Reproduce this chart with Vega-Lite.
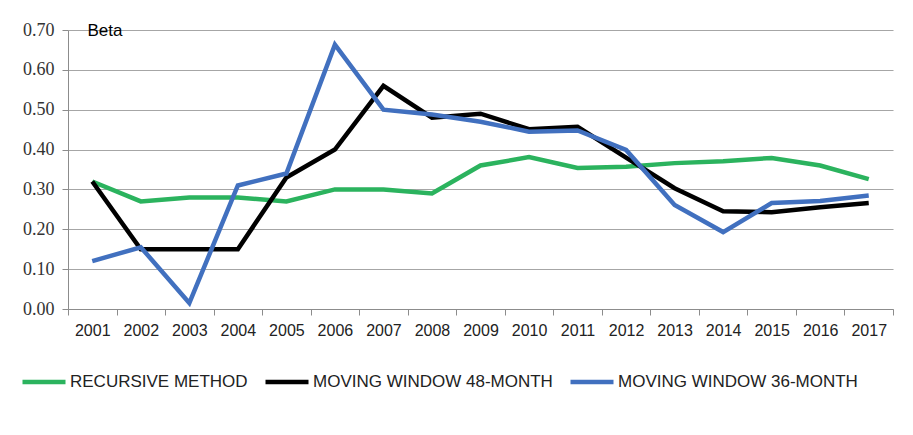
{
  "$schema": "https://vega.github.io/schema/vega-lite/v6.json",
  "width": 825,
  "height": 279,
  "autosize": {"type": "none"},
  "padding": {"left": 68, "top": 30, "right": 20, "bottom": 126},
  "background": "white",
  "config": {"view": {"stroke": null}},
  "data": {"values": [
    {"year": "2001", "series": "RECURSIVE METHOD", "beta": 0.32},
    {"year": "2002", "series": "RECURSIVE METHOD", "beta": 0.27},
    {"year": "2003", "series": "RECURSIVE METHOD", "beta": 0.28},
    {"year": "2004", "series": "RECURSIVE METHOD", "beta": 0.28},
    {"year": "2005", "series": "RECURSIVE METHOD", "beta": 0.27},
    {"year": "2006", "series": "RECURSIVE METHOD", "beta": 0.30},
    {"year": "2007", "series": "RECURSIVE METHOD", "beta": 0.30},
    {"year": "2008", "series": "RECURSIVE METHOD", "beta": 0.29},
    {"year": "2009", "series": "RECURSIVE METHOD", "beta": 0.36},
    {"year": "2010", "series": "RECURSIVE METHOD", "beta": 0.381},
    {"year": "2011", "series": "RECURSIVE METHOD", "beta": 0.354},
    {"year": "2012", "series": "RECURSIVE METHOD", "beta": 0.357},
    {"year": "2013", "series": "RECURSIVE METHOD", "beta": 0.366},
    {"year": "2014", "series": "RECURSIVE METHOD", "beta": 0.371},
    {"year": "2015", "series": "RECURSIVE METHOD", "beta": 0.379},
    {"year": "2016", "series": "RECURSIVE METHOD", "beta": 0.36},
    {"year": "2017", "series": "RECURSIVE METHOD", "beta": 0.326},
    {"year": "2001", "series": "MOVING WINDOW 48-MONTH", "beta": 0.32},
    {"year": "2002", "series": "MOVING WINDOW 48-MONTH", "beta": 0.15},
    {"year": "2003", "series": "MOVING WINDOW 48-MONTH", "beta": 0.15},
    {"year": "2004", "series": "MOVING WINDOW 48-MONTH", "beta": 0.15},
    {"year": "2005", "series": "MOVING WINDOW 48-MONTH", "beta": 0.33},
    {"year": "2006", "series": "MOVING WINDOW 48-MONTH", "beta": 0.40},
    {"year": "2007", "series": "MOVING WINDOW 48-MONTH", "beta": 0.56},
    {"year": "2008", "series": "MOVING WINDOW 48-MONTH", "beta": 0.48},
    {"year": "2009", "series": "MOVING WINDOW 48-MONTH", "beta": 0.49},
    {"year": "2010", "series": "MOVING WINDOW 48-MONTH", "beta": 0.451},
    {"year": "2011", "series": "MOVING WINDOW 48-MONTH", "beta": 0.457},
    {"year": "2012", "series": "MOVING WINDOW 48-MONTH", "beta": 0.38},
    {"year": "2013", "series": "MOVING WINDOW 48-MONTH", "beta": 0.303},
    {"year": "2014", "series": "MOVING WINDOW 48-MONTH", "beta": 0.245},
    {"year": "2015", "series": "MOVING WINDOW 48-MONTH", "beta": 0.243},
    {"year": "2016", "series": "MOVING WINDOW 48-MONTH", "beta": 0.255},
    {"year": "2017", "series": "MOVING WINDOW 48-MONTH", "beta": 0.266},
    {"year": "2001", "series": "MOVING WINDOW 36-MONTH", "beta": 0.12},
    {"year": "2002", "series": "MOVING WINDOW 36-MONTH", "beta": 0.155},
    {"year": "2003", "series": "MOVING WINDOW 36-MONTH", "beta": 0.015},
    {"year": "2004", "series": "MOVING WINDOW 36-MONTH", "beta": 0.31},
    {"year": "2005", "series": "MOVING WINDOW 36-MONTH", "beta": 0.34},
    {"year": "2006", "series": "MOVING WINDOW 36-MONTH", "beta": 0.663},
    {"year": "2007", "series": "MOVING WINDOW 36-MONTH", "beta": 0.50},
    {"year": "2008", "series": "MOVING WINDOW 36-MONTH", "beta": 0.488},
    {"year": "2009", "series": "MOVING WINDOW 36-MONTH", "beta": 0.47},
    {"year": "2010", "series": "MOVING WINDOW 36-MONTH", "beta": 0.445},
    {"year": "2011", "series": "MOVING WINDOW 36-MONTH", "beta": 0.448},
    {"year": "2012", "series": "MOVING WINDOW 36-MONTH", "beta": 0.399},
    {"year": "2013", "series": "MOVING WINDOW 36-MONTH", "beta": 0.261},
    {"year": "2014", "series": "MOVING WINDOW 36-MONTH", "beta": 0.193},
    {"year": "2015", "series": "MOVING WINDOW 36-MONTH", "beta": 0.266},
    {"year": "2016", "series": "MOVING WINDOW 36-MONTH", "beta": 0.271},
    {"year": "2017", "series": "MOVING WINDOW 36-MONTH", "beta": 0.285}
  ]},
  "mark": {"type": "line", "strokeWidth": 4.5, "strokeJoin": "miter", "strokeCap": "butt"},
  "encoding": {
    "x": {
      "field": "year", "type": "ordinal",
      "scale": {"paddingInner": 0, "paddingOuter": 0},
      "axis": {
        "title": null, "labelAngle": 0, "tickBand": "extent",
        "domainColor": "#8c8c8c", "tickColor": "#8c8c8c", "tickSize": 6,
        "labelFont": "Liberation Sans", "labelFontSize": 16, "labelColor": "#222",
        "labelPadding": 7, "grid": false
      }
    },
    "y": {
      "field": "beta", "type": "quantitative",
      "scale": {"domain": [0, 0.7], "nice": false},
      "axis": {
        "values": [0, 0.1, 0.2, 0.3, 0.4, 0.5, 0.6, 0.7],
        "format": ".2f",
        "grid": true, "gridColor": "#a6a6a6", "gridWidth": 1.2,
        "domainColor": "#8c8c8c", "tickColor": "#8c8c8c", "tickSize": 6,
        "labelFont": "Liberation Serif", "labelFontSize": 18, "labelColor": "#333",
        "labelPadding": 8,
        "title": "Beta", "titleAngle": 0, "titleX": 19, "titleY": 0,
        "titleAlign": "left", "titleBaseline": "middle",
        "titleFont": "Liberation Sans", "titleFontSize": 17, "titleFontWeight": "normal", "titleColor": "#000"
      }
    },
    "color": {
      "field": "series", "type": "nominal",
      "scale": {
        "domain": ["RECURSIVE METHOD", "MOVING WINDOW 48-MONTH", "MOVING WINDOW 36-MONTH"],
        "range": ["#2bb35e", "#000000", "#4170bf"]
      },
      "legend": {
        "title": null, "orient": "none", "direction": "horizontal",
        "legendX": -48, "legendY": 328,
        "symbolType": "stroke", "symbolSize": 1849, "symbolStrokeWidth": 4.5,
        "labelFont": "Liberation Sans", "labelFontSize": 17, "labelColor": "#222",
        "labelOffset": 2, "columnPadding": 8, "labelLimit": 400
      }
    },
    "order": {"value": 0}
  }
}
